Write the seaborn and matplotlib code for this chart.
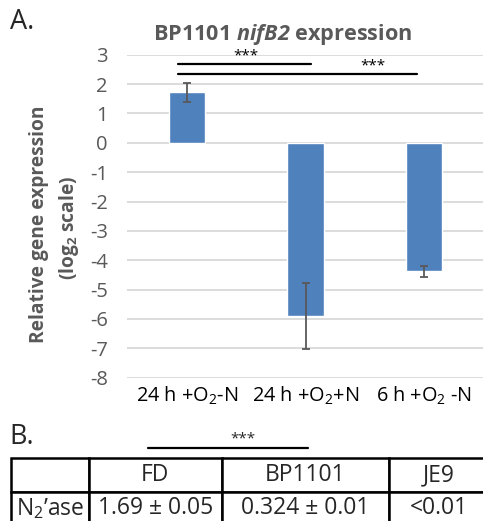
import numpy as np
import pandas as pd
import matplotlib
matplotlib.use('Agg')
import matplotlib.pyplot as plt
import seaborn as sns

# Panel A data: relative nifB2 expression (log2) with error bars
conditions = ['24 h +O$_2$-N', '24 h +O$_2$+N', '6 h +O$_2$ -N']
expression = [1.72, -5.90, -4.38]
errors = [0.33, 1.11, 0.19]

# Significance brackets (start category, end category, label)
sig_pairs = [(0, 1, '***'), (0, 2, '***')]

# Panel B table
table_header = ['', 'FD', 'BP1101', 'JE9']
table_row = ['N$_2$\u2019ase', '1.69 \u00b1 0.05', '0.324 \u00b1 0.01', '<0.01']

sns.set_style('white')
plt.rcParams['font.family'] = ['Open Sans', 'DejaVu Sans']
plt.rcParams['axes.unicode_minus'] = False
plt.rcParams['mathtext.fontset'] = 'custom'
plt.rcParams['mathtext.default'] = 'regular'
plt.rcParams['mathtext.bfit'] = 'Open Sans:italic:bold'

df = pd.DataFrame({'condition': conditions, 'expr': expression})

fig = plt.figure(figsize=(4.83, 5.21), dpi=100)
W, H = 483, 521
ax = fig.add_axes([127.4 / W, 1 - 377.7 / H, 356.3 / W, 323.0 / H])

sns.barplot(data=df, x='condition', y='expr', color='#4F81BD', saturation=1,
            width=0.306, errorbar=None, ax=ax)
ax.errorbar(x=np.arange(len(conditions)), y=expression, yerr=errors, fmt='none',
            ecolor='#595959', elinewidth=1.3, capsize=2.6, capthick=1.3)

ax.set_ylim(-8, 3)
ax.set_xlim(-0.5, 2.5)
ax.set_yticks(range(-8, 4))
ax.yaxis.grid(True, color='#D9D9D9', lw=1.3)
ax.set_axisbelow(True)
sns.despine(ax=ax, left=True, bottom=True)
ax.tick_params(axis='y', length=0, pad=14, labelsize=14.5, labelcolor='#595959')
ax.tick_params(axis='x', length=0, pad=5, labelsize=14.3, labelcolor='black')
ax.set_xlabel('')
ax.set_ylabel('')

ax.set_title('BP1101 $\\mathbfit{nifB2}$ expression', fontsize=15.6, x=0.437,
             fontweight='bold', color='#595959', pad=10.5)

# significance lines
sig_y = [2.70, 2.35]
star_y = [2.96, 2.62]
star_x = [0.50, 1.565]
for (a, b, lab), ly, sy, sx in zip(sig_pairs, sig_y, star_y, star_x):
    ax.plot([a - 0.072, b + (0.05 if b == 1 else -0.064)], [ly, ly],
            color='black', lw=1.6, clip_on=False)
    ax.text(sx, sy, lab, ha='center', va='center', fontsize=11, color='black')

fig.text(39 / W, 1 - 224 / H, 'Relative gene expression', rotation=90,
         ha='center', va='center', fontsize=13.8, fontweight='bold', color='#595959')
fig.text(69 / W, 1 - 228 / H, '(log$_2$ scale)', rotation=90,
         ha='center', va='center', fontsize=13.8, fontweight='bold', color='#595959')

fig.text(10 / W, 1 - 22 / H, 'A.', ha='left', va='center', fontsize=19.5)
fig.text(9 / W, 1 - 437 / H, 'B.', ha='left', va='center', fontsize=19.5)

# Panel B table
tax = fig.add_axes([11 / W, -4.1 / H, 477 / W, 66.8 / H])
tax.axis('off')
widths = np.array([78, 132.7, 167.3, 99.0])
tbl = tax.table(cellText=[table_header, table_row], colWidths=list(widths / widths.sum()),
                cellLoc='center', bbox=[0, 0, 1, 1])
tbl.auto_set_font_size(False)
tbl.set_fontsize(16.5)
for cell in tbl.get_celld().values():
    cell.set_linewidth(1.8)
    cell.set_edgecolor('black')
    cell.PAD = 0.02

fig.add_artist(plt.Line2D([148 / W, 308 / W], [1 - 448.3 / H, 1 - 448.3 / H],
                          color='black', lw=1.6))
fig.text(243 / W, 1 - 439 / H, '***', ha='center', va='center', fontsize=11)

fig.savefig('out.png', dpi=100)
